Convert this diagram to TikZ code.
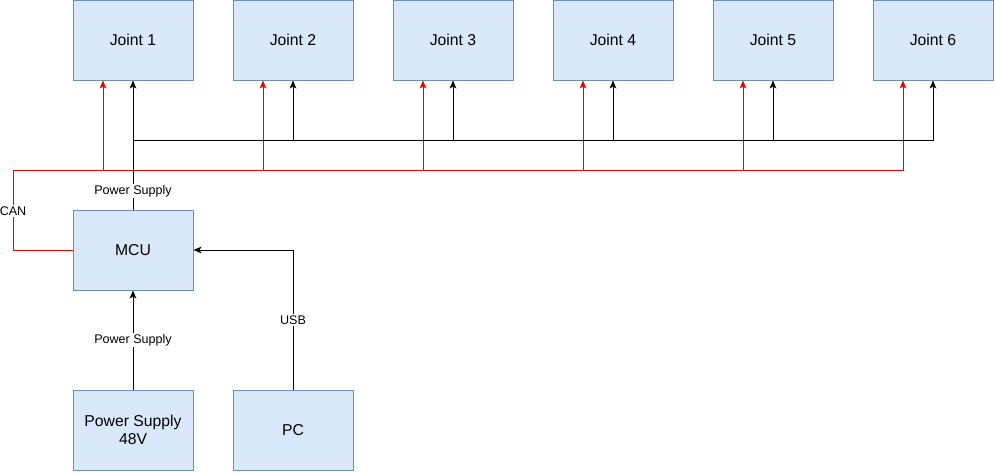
\documentclass[tikz,border=0pt]{standalone}
\usepackage{fontspec}
\setmainfont{Liberation Sans}
\usepackage{tikz}
\usetikzlibrary{arrows.meta}

\definecolor{boxFill}{RGB}{218,232,252}
\definecolor{boxLine}{RGB}{108,142,191}
\definecolor{canColor}{RGB}{230,0,0}

\tikzset{
  unit/.style={draw=boxLine,fill=boxFill,line width=0.75pt,minimum width=90pt,minimum height=60pt,
    align=center,font=\fontsize{11.8}{14}\selectfont,inner sep=0pt},
  lbl/.style={fill=white,inner sep=1pt,font=\fontsize{9.4}{11}\selectfont},
  wire/.style={line width=0.75pt,>={Stealth[length=6pt,width=5pt,inset=1.5pt]}},
}

\begin{document}
\begin{tikzpicture}[x=0.75pt,y=-0.75pt]
\useasboundingbox (0,0) rectangle (995,472);
\foreach \k in {1,...,6}
  \node[unit] (j\k) at (133+160*\k-160,40) {Joint \k};
\node[unit] (mcu) at (133,250) {MCU};
\node[unit] (ps) at (133,430) {Power Supply\\48V};
\node[unit] (pc) at (293,430) {PC};
\coordinate (pwr) at (133,140);
\coordinate (can) at (13,170);

% power bus
\draw[wire,->] (mcu.north) -- (j1.south);
\foreach \k in {2,...,6}
  \draw[wire,->] (pwr) -| (j\k.south);
\node[lbl] at (133,191) {Power Supply};

% CAN bus
\draw[wire,canColor] (mcu.west) -| (can);
\foreach \k in {1,...,6}
  \draw[wire,canColor,->] (can) -| ([xshift=-22.5pt]j\k.south);
\node[lbl] at (13,211) {CAN};

% MCU inputs
\draw[wire,->] (ps.north) -- node[lbl] {Power Supply} (mcu.south);
\draw[wire,->] (pc.north) |- node[lbl,pos=0.25] {USB} (mcu.east);
\end{tikzpicture}
\end{document}
